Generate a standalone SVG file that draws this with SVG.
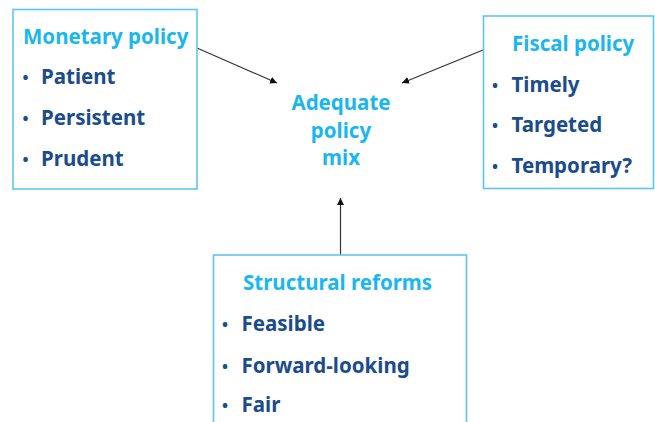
<svg xmlns="http://www.w3.org/2000/svg" width="655" height="422" viewBox="0 0 655 422">
  <style>
    .box { fill: #ffffff; stroke: #5cc6f2; stroke-width: 1.6; }
    .title { font-family: "Noto Sans", "Open Sans", sans-serif; font-weight: bold; font-size: 20.5px; fill: #1ab6f0; }
    .item { font-family: "Noto Sans", "Open Sans", sans-serif; font-weight: bold; font-size: 20.5px; fill: #1b4c8c; }
    .bullet { font-family: "Noto Sans", "Open Sans", sans-serif; font-weight: bold; font-size: 16px; fill: #1b4c8c; }
    .center { font-family: "Noto Sans", "Open Sans", sans-serif; font-weight: bold; font-size: 20.5px; fill: #1ab6f0; text-anchor: middle; }
    .link { stroke: #333333; stroke-width: 1.2; fill: none; marker-end: url(#arrow); }
  </style>
  <defs>
    <marker id="arrow" viewBox="0 0 10 10" refX="10" refY="5" markerWidth="7" markerHeight="7" markerUnits="userSpaceOnUse" orient="auto">
      <path d="M0,0 L10,5 L0,10 z" fill="#111111"/>
    </marker>
  </defs>

  <rect width="655" height="422" fill="#ffffff"/>

  <g id="connectors">
    <line class="link" x1="197" y1="48" x2="277" y2="83"/>
    <line class="link" x1="483" y1="50" x2="402" y2="83"/>
    <line class="link" x1="340.5" y1="255" x2="340.5" y2="198"/>
  </g>

  <g id="monetary">
    <rect class="box" x="13" y="9.5" width="184" height="179.5"/>
    <text class="title" x="23" y="44">Monetary policy</text>
    <text class="bullet" x="22.5" y="83">•</text>
    <text class="item" x="41" y="84">Patient</text>
    <text class="bullet" x="22.5" y="124">•</text>
    <text class="item" x="41" y="125">Persistent</text>
    <text class="bullet" x="22.5" y="165">•</text>
    <text class="item" x="41" y="166">Prudent</text>
  </g>

  <g id="fiscal">
    <rect class="box" x="483.5" y="16" width="170" height="172.5"/>
    <text class="title" x="512" y="51">Fiscal policy</text>
    <text class="bullet" x="492" y="91">•</text>
    <text class="item" x="511.5" y="92">Timely</text>
    <text class="bullet" x="492" y="131">•</text>
    <text class="item" x="511.5" y="132">Targeted</text>
    <text class="bullet" x="492" y="172">•</text>
    <text class="item" x="511.5" y="173">Temporary?</text>
  </g>

  <g id="mix">
    <text class="center" x="341" y="110">Adequate</text>
    <text class="center" x="341" y="137.5">policy</text>
    <text class="center" x="341" y="165">mix</text>
  </g>

  <g id="structural">
    <rect class="box" x="213.5" y="255" width="253" height="180"/>
    <text class="title" x="243" y="290">Structural reforms</text>
    <text class="bullet" x="222" y="330">•</text>
    <text class="item" x="241.5" y="331">Feasible</text>
    <text class="bullet" x="222" y="371.5">•</text>
    <text class="item" x="241.5" y="372.5">Forward-looking</text>
    <text class="bullet" x="222" y="411">•</text>
    <text class="item" x="241.5" y="412">Fair</text>
  </g>
</svg>
